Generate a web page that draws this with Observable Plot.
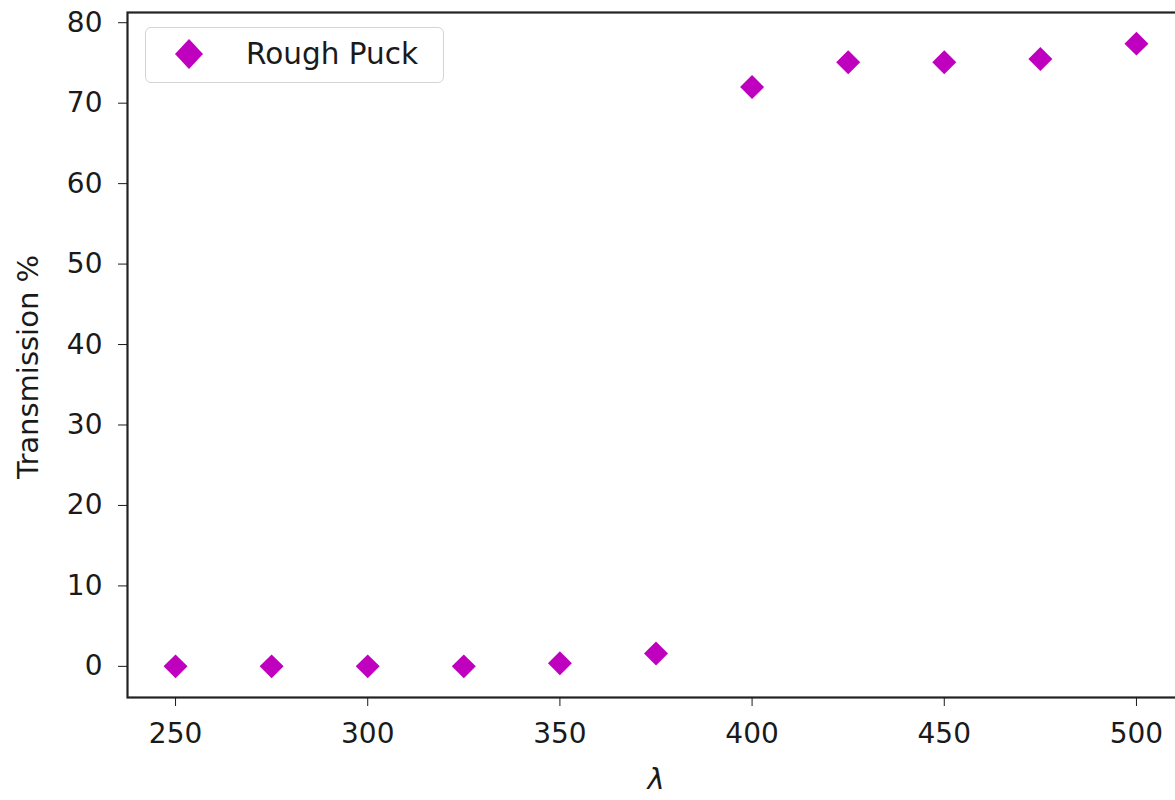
<!DOCTYPE html>
<html>
<head>
<meta charset="utf-8">
<script src="https://cdn.jsdelivr.net/npm/d3@7"></script>
<script src="https://cdn.jsdelivr.net/npm/@observablehq/plot@0.6"></script>
<style>
  html, body { margin: 0; padding: 0; background: #fff; overflow: hidden; }
  #wrap { position: relative; width: 1175px; height: 800px; font-family: "DejaVu Sans", sans-serif; }
  #legend { position: absolute; left: 145px; top: 27px; width: 299px; height: 56px; box-sizing: border-box;
            border: 1.5px solid #d4d4d4; border-radius: 6px; background: rgba(255,255,255,0.8); }
  #legend svg { position: absolute; left: 28px; top: 10px; }
  #legend span { position: absolute; left: 100px; top: 8px; font-size: 29.5px; line-height: 36px; color: #1a1a1a; white-space: nowrap; }
</style>
</head>
<body>
<div id="wrap"></div>
<script>
// Data
const wavelengths = [250, 275, 300, 325, 350, 375, 400, 425, 450, 475, 500];
const transmission = [0, 0, 0, 0, 0.4, 1.6, 72.0, 75.1, 75.1, 75.5, 77.4];
const seriesName = "Rough Puck";
const xTicks = [250, 300, 350, 400, 450, 500];
const yTicks = [0, 10, 20, 30, 40, 50, 60, 70, 80];
const xLabel = "λ";
const yLabel = "Transmission %";

const data = wavelengths.map((w, i) => ({x: w, y: transmission[i]}));

// matplotlib-like 5% margins
const xMin = d3.min(wavelengths), xMax = d3.max(wavelengths);
const yMin = d3.min(transmission), yMax = d3.max(transmission);
const xPad = 0.05 * (xMax - xMin), yPad = 0.05 * (yMax - yMin);

const color = "#bf00bf";
const W = 1175, H = 800;

const chart = Plot.plot({
  width: W,
  height: H,
  marginLeft: 127,
  marginRight: -9,
  marginTop: 12,
  marginBottom: 103,
  style: {fontFamily: "DejaVu Sans, sans-serif", fontSize: "28px", color: "#1a1a1a", background: "#fff"},
  x: {domain: [xMin - xPad, xMax + xPad]},
  y: {domain: [yMin - yPad, yMax + yPad]},
  marks: [
    Plot.frame({stroke: "#222", strokeWidth: 2.2}),
    Plot.axisX({ticks: xTicks, tickSize: 9, tickPadding: 17, label: null, fontSize: 28, tickFormat: d3.format("d")}),
    Plot.axisY({ticks: yTicks, tickSize: 9, tickPadding: 16, label: null, fontSize: 28, tickFormat: d3.format("d")}),
    Plot.text([xLabel], {frameAnchor: "bottom", dy: 91, text: d => d, fontSize: 29, fontStyle: "italic"}),
    Plot.text([yLabel], {frameAnchor: "left", dx: -99, dy: 12, rotate: -90, textAnchor: "middle", text: d => d, fontSize: 29}),
    Plot.dot(data, {x: "x", y: "y", symbol: "diamond2", r: 10.8, fill: color, stroke: "none"})
  ]
});

const wrap = document.getElementById("wrap");
wrap.appendChild(chart);

const legend = document.createElement("div");
legend.id = "legend";
legend.innerHTML = `<svg width="30" height="32" viewBox="-15 -16 30 32"><path d="M0,-15L14,0L0,15L-14,0Z" fill="${color}"/></svg><span>${seriesName}</span>`;
wrap.appendChild(legend);
</script>
</body>
</html>
